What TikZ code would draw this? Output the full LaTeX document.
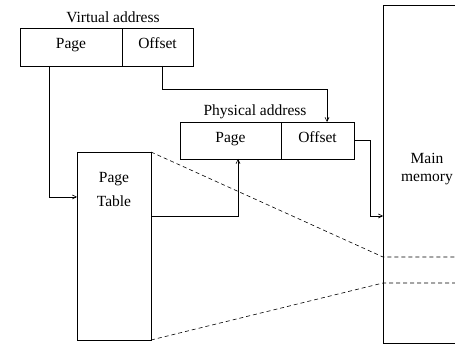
\documentclass[tikz,border=0pt]{standalone}
\usepackage{fontspec}
\setmainfont{Liberation Serif}
\usetikzlibrary{calc,arrows.meta}
\begin{document}
\begin{tikzpicture}[x=1pt,y=-1pt,
  line width=0.6pt,
  txt/.style={font=\fontsize{15.5}{17}\selectfont, inner sep=0pt},
  field/.style={draw, txt, minimum height=38pt, outer sep=0pt,
    text height=0.66em, text depth=0.26em},
  box/.style={draw, outer sep=0pt},
  arr/.style={-{Straight Barb[length=4pt,width=4pt]}},
  dsh/.style={dash pattern=on 4pt off 3pt}]
\useasboundingbox (0,0) rectangle (455,344);

% virtual address register
\node[txt] (vtitle) at (113,17) {Virtual address};
\node[field, minimum width=102pt] (vpage) at (71,47) {Page};
\node[field, minimum width=71pt] (voff) at (157.5,47) {Offset};

% physical address register
\node[txt] (ptitle) at (255,112) {Physical address};
\node[field, minimum width=101pt, minimum height=37pt] (ppage) at (230.5,140.5) {Page};
\node[field, minimum width=73pt, minimum height=37pt] (poff) at (317.5,140.5) {Offset};

% page table
\node[box, minimum width=74pt, minimum height=188pt] (pt) at (114,246) {};
\node[txt, align=center] (ptlabel) at (114,190) {Page\\[7pt]Table};

% main memory (right side runs past the edge)
\node[box, minimum width=120pt, minimum height=338pt] (mm) at (443,174) {};
\node[txt, align=center] (mmlabel) at (427,169) {Main\\[1pt]memory};

% connectors
\coordinate (b1) at (327,89);
\coordinate (mmin) at (383,216);
\coordinate (fr1) at (383,257);
\coordinate (fr2) at (383,283);
\coordinate (e1) at (456,257);
\coordinate (e2) at (456,283);

\draw[arr] ($(vpage.south)+(-22,0)$) |- ($(pt.north west)+(0,45)$);
\draw[arr] ($(voff.south)+(4.5,0)$) |- (b1) -- ($(poff.north)+(9.5,0)$);
\draw[arr] ($(pt.north east)+(0,64)$) -| ($(ppage.south)+(7.5,0)$);
\draw[arr] (poff.east) -- ++(16,0) |- (mmin);

% page frame in memory
\draw[dsh] (pt.north east) -- (fr1) -- (e1);
\draw[dsh] (pt.south east) -- (fr2) -- (e2);
\end{tikzpicture}
\end{document}
